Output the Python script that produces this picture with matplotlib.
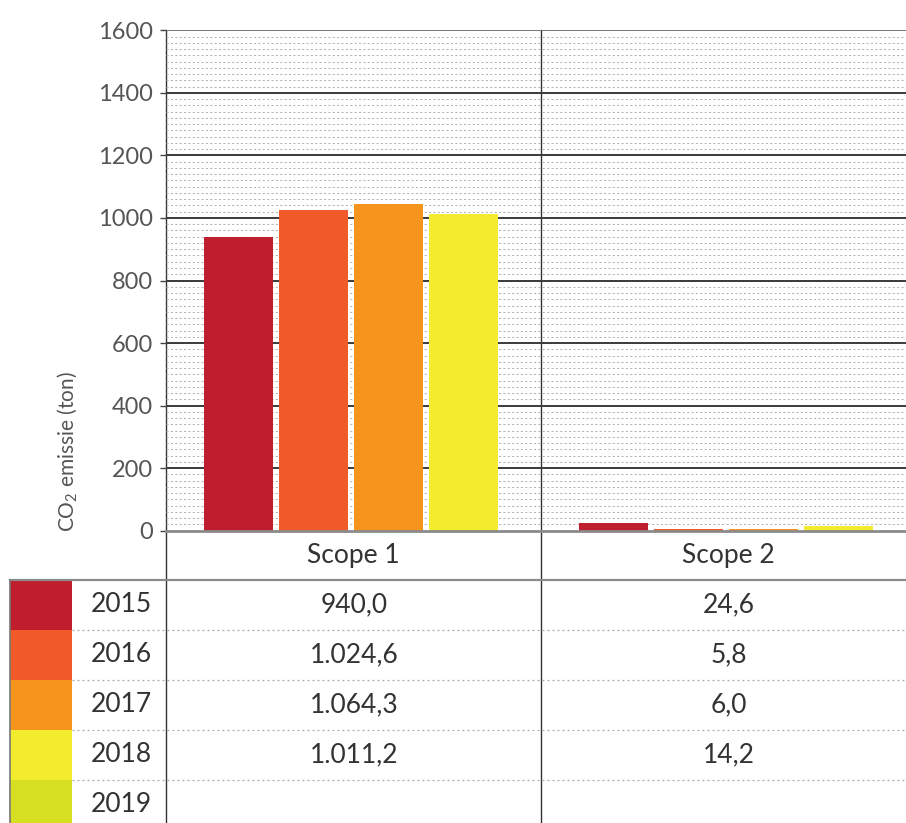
import matplotlib
matplotlib.use("Agg")
import matplotlib.pyplot as plt
import numpy as np

plt.rcParams['font.family'] = ['Lato', 'DejaVu Sans']
plt.rcParams['mathtext.fontset'] = 'custom'
plt.rcParams['mathtext.rm'] = 'Lato'
plt.rcParams['mathtext.default'] = 'regular'

# ---- data ----
scopes = ["Scope 1", "Scope 2"]
years = ["2015", "2016", "2017", "2018", "2019"]
colors = ["#BE1E2D", "#F15A29", "#F7941D", "#F3EB2D", "#D7DF23"]
scope1_bars = [940.0, 1025.0, 1046.0, 1012.0]   # bar heights as drawn
scope2_bars = [24.6, 5.8, 6.0, 14.2]
table_scope1 = ["940,0", "1.024,6", "1.064,3", "1.011,2", ""]
table_scope2 = ["24,6", "5,8", "6,0", "14,2", ""]
yticks = [0, 200, 400, 600, 800, 1000, 1200, 1400, 1600]

W, H = 906, 823
fig = plt.figure(figsize=(W / 100, H / 100), dpi=100)
fig.patch.set_facecolor("white")

def fx(px):
    return px / W

def fy(py):
    return 1 - py / H

# overlay axes in pixel coordinates for table / frame
tab = fig.add_axes([0, 0, 1, 1], zorder=0)
tab.set_xlim(0, W)
tab.set_ylim(H, 0)
tab.axis("off")

# chart axes
x0, x1 = 166, 916
ytop, ybot = 30.3, 530.7
ax = fig.add_axes([fx(x0), fy(ybot), (x1 - x0) / W, (ybot - ytop) / H], zorder=1)
ax.patch.set_alpha(0)
ax.set_xlim(-0.5, 1.5)
ax.set_ylim(0, 1600)

# gridlines
for v in range(20, 1600, 20):
    if v % 200 == 0:
        continue
    ax.axhline(v, color="#b4b4b4", lw=0.75, linestyle=(0, (2, 2.2)), zorder=0)
for v in yticks[1:]:
    c = "#777777" if v == 1600 else "#3a3a3a"
    ax.axhline(v, color=c, lw=1.4, zorder=0.5)
ax.axhline(0, color="#8a8a8a", lw=2.0, zorder=3, clip_on=False)

bw = 69 / 375
sp = 75 / 375
shift = -2.5 / 375
for i in range(4):
    for g, vals in enumerate([scope1_bars, scope2_bars]):
        ax.bar(g + (i - 1.5) * sp + shift, vals[i], width=bw, color=colors[i], zorder=2)

for s in ax.spines.values():
    s.set_visible(False)
ax.set_xticks([])
ax.set_yticks(yticks)
ax.set_yticklabels([str(t) for t in yticks], fontsize=17, color="#555555")
ax.tick_params(axis="y", length=4.5, width=1.0, color="#444444", pad=5)

# frame lines in table overlay
tab.plot([166, 166], [ytop, H], color="#333333", lw=1.0)
tab.plot([541, 541], [ytop, H], color="#333333", lw=1.0)
tab.plot([10, W], [580, 580], color="#8a8a8a", lw=1.6)
for yy in [630, 680, 730, 780]:
    tab.plot([72, W], [yy, yy], color="#a8a8a8", lw=0.9, linestyle=(0, (1.5, 2.5)))

# swatches
row_tops = [580, 630, 680, 730, 780]
for i, (yt, c) in enumerate(zip(row_tops, colors)):
    hgt = 50 if i < 4 else H - 780 + 5
    tab.add_patch(plt.Rectangle((10, yt), 62, hgt, color=c, lw=0, zorder=1))
tab.plot([10, 10], [580, H], color="#777777", lw=1.2, zorder=2)

txtc = "#333333"
tab.text(353.5, 556, scopes[0], ha="center", va="center", fontsize=19, color=txtc)
tab.text(728.5, 556, scopes[1], ha="center", va="center", fontsize=19, color=txtc)
for i, yt in enumerate(row_tops):
    cy = yt + 25
    tab.text(121, cy, years[i], ha="center", va="center", fontsize=19, color=txtc)
    tab.text(354, cy, table_scope1[i], ha="center", va="center", fontsize=19, color=txtc)
    tab.text(729, cy, table_scope2[i], ha="center", va="center", fontsize=19, color=txtc)

tab.text(67, 451, "CO$_2$ emissie (ton)", rotation=90, ha="center", va="center",
         fontsize=15, color="#555555")

fig.savefig("out.png", dpi=100, facecolor="white")
